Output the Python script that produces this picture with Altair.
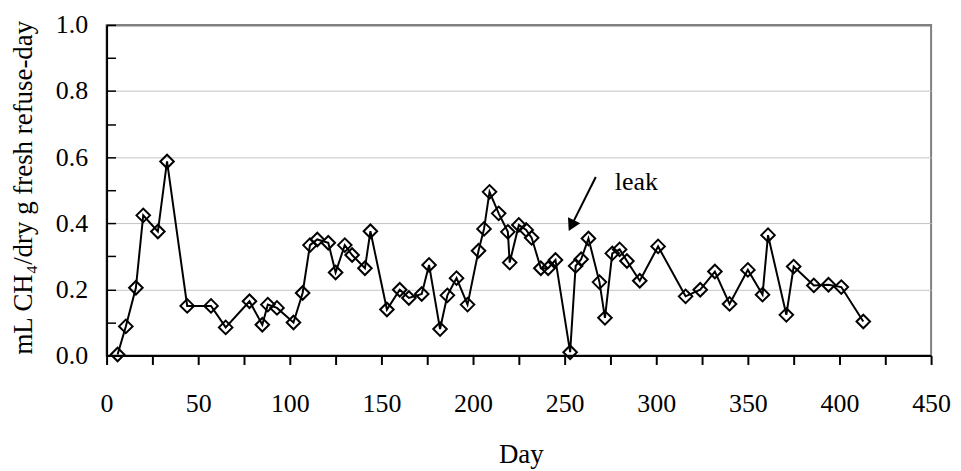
import altair as alt
import pandas as pd

# ---- data ----
days = [6, 10.5, 16, 20, 28, 33, 44, 57, 65, 78, 85, 88, 93, 102, 107, 111, 115,
        121, 125, 130, 134, 141, 144, 153, 160, 165, 172, 176, 182, 186, 191, 197,
        203, 206, 209, 214, 219, 220, 225, 229, 232, 237, 241, 245, 253, 256, 259,
        263, 269, 272, 276, 280, 284, 291, 301, 316, 324, 332, 340, 350, 358, 361,
        371, 375, 386, 394, 401, 413]
values = [0.003, 0.088, 0.205, 0.424, 0.375, 0.587, 0.150, 0.150, 0.085, 0.164,
          0.093, 0.154, 0.144, 0.100, 0.189, 0.334, 0.351, 0.341, 0.251, 0.334,
          0.304, 0.264, 0.376, 0.139, 0.199, 0.174, 0.186, 0.274, 0.080, 0.182,
          0.234, 0.154, 0.317, 0.383, 0.495, 0.430, 0.374, 0.281, 0.395, 0.380,
          0.356, 0.264, 0.264, 0.289, 0.010, 0.271, 0.291, 0.354, 0.222, 0.114,
          0.309, 0.321, 0.286, 0.226, 0.330, 0.179, 0.199, 0.254, 0.156, 0.259,
          0.184, 0.364, 0.123, 0.269, 0.212, 0.214, 0.207, 0.103]

x_tick_values = [0, 25, 50, 75, 100, 125, 150, 175, 200, 225, 250, 275, 300,
                 325, 350, 375, 400, 425, 450]
y_label_values = [0.0, 0.2, 0.4, 0.6, 0.8, 1.0]
y_tick_values = [0.0, 0.1, 0.2, 0.3, 0.4, 0.5, 0.6, 0.7, 0.8, 0.9, 1.0]

# annotation: "leak" label and arrow (data coordinates)
leak_label = ["leak"]
leak_label_day = [289.1]
leak_label_value = [0.524]
arrow_start_day = [267.0]
arrow_start_value = [0.540]
arrow_head_day = [253.7]
arrow_head_value = [0.393]

x_title = "Day"
y_title = "mL CH\u2084/dry g fresh refuse-day"

FONT = "Liberation Serif"

df = pd.DataFrame({"day": days, "value": values, "idx": list(range(len(days)))})
df_text = pd.DataFrame({"day": leak_label_day, "value": leak_label_value, "t": leak_label})
df_arrow = pd.DataFrame({"day": arrow_start_day, "value": arrow_start_value,
                         "day2": arrow_head_day, "value2": arrow_head_value})
df_head = pd.DataFrame({"day": arrow_head_day, "value": arrow_head_value})

xscale = alt.Scale(domain=[0, 450], nice=False, zero=False)
yscale = alt.Scale(domain=[0, 1], nice=False, zero=False)

line = alt.Chart(df).mark_line(color="black", strokeWidth=2).encode(
    x=alt.X("day:Q", scale=xscale,
            axis=alt.Axis(values=x_tick_values, title=x_title,
                          labelExpr="datum.value % 50 == 0 ? datum.label : ''",
                          tickSize=9, tickWidth=2, domainWidth=2,
                          labelBaseline="alphabetic", labelPadding=47,
                          labelFont=FONT, titleFont=FONT,
                          labelFontSize=26, titleFontSize=27,
                          titleX=416, titleY=107, titleBaseline="alphabetic",
                          titleAlign="center", grid=False, labelFlush=False)),
    y=alt.Y("value:Q", scale=yscale,
            axis=alt.Axis(values=y_label_values, format=".1f", title=y_title,
                          ticks=False, tickSize=0, domainWidth=2,
                          labelFont=FONT, titleFont=FONT,
                          labelPadding=19, labelFontSize=26, titleFontSize=27,
                          titleX=-83, titleY=163, titleAngle=-90,
                          titleBaseline="middle", titleAlign="center",
                          grid=True,
                          gridColor=alt.condition("datum.value >= 1", alt.value("#808080"), alt.value("#c4c4c4")),
                          gridWidth=alt.condition("datum.value >= 1", alt.value(2), alt.value(1)),
                          labelFlush=False)),
    order="idx:Q",
)

arrow = alt.Chart(df_arrow).mark_rule(color="black", strokeWidth=2).encode(
    x=alt.X("day:Q", scale=xscale),
    y=alt.Y("value:Q", scale=yscale),
    x2="day2:Q",
    y2="value2:Q",
)

head = alt.Chart(df_head).mark_point(shape="triangle-up", size=190, filled=True,
                                     color="black", opacity=1, angle=206.7).encode(
    x=alt.X("day:Q", scale=xscale),
    y=alt.Y("value:Q", scale=yscale),
)

text = alt.Chart(df_text).mark_text(font=FONT, fontSize=26, color="black",
                                    align="center", baseline="middle").encode(
    x=alt.X("day:Q", scale=xscale),
    y=alt.Y("value:Q", scale=yscale),
    text="t:N",
)

inner = alt.layer(line, arrow, head, text)

points = alt.Chart(df).mark_point(shape="diamond", size=185, filled=False,
                                  color="black", strokeWidth=2, opacity=1).encode(
    x=alt.X("day:Q", scale=xscale),
    y=alt.Y("value:Q", scale=yscale,
            axis=alt.Axis(orient="left", values=y_tick_values, labels=False,
                          domain=False, grid=False, ticks=True, tickSize=9,
                          tickWidth=1.5, offset=-9, title="")),
)

chart = alt.layer(inner, points).resolve_axis(
    y="independent"
).properties(
    width=828,
    height=332,
    autosize=alt.AutoSizeParams(type="none"),
    padding={"left": 99, "top": 16, "right": 22, "bottom": 115},
).configure_view(
    stroke="#808080", strokeWidth=2
).configure_axis(
    labelFont=FONT, titleFont=FONT, labelColor="black", titleColor="black",
    titleFontWeight="normal", domainColor="black", tickColor="black",
)

chart.save("out.html", embed_options={"renderer": "svg", "actions": False})
